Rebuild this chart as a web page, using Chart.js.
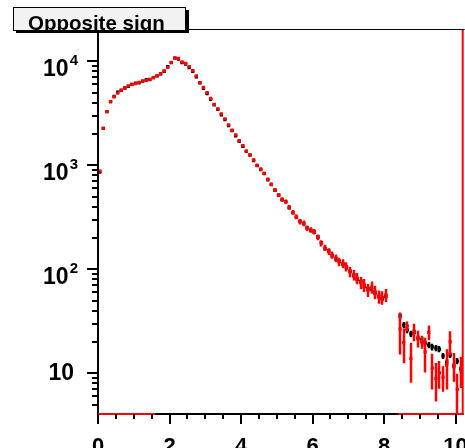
<!DOCTYPE html>
<html><head><meta charset="utf-8">
<script src="https://cdn.jsdelivr.net/npm/chart.js@4.4.0/dist/chart.umd.min.js"></script>
<style>html,body{margin:0;padding:0;background:#fff;overflow:hidden}canvas{display:block}</style>
</head><body>
<canvas id="c" width="465" height="448"></canvas>
<script>
const titleText = 'Opposite sign';

// bin centres (bin width 0.1)
const xLow = [0.05,0.15,0.25,0.35,0.45,0.55,0.65,0.75,0.85,0.95,
  1.05,1.15,1.25,1.35,1.45,1.55,1.65,1.75,1.85,1.95,
  2.05,2.15,2.25,2.35,2.45,2.55,2.65,2.75,2.85,2.95,
  3.05,3.15,3.25,3.35,3.45,3.55,3.65,3.75,3.85,3.95,
  4.05,4.15,4.25,4.35,4.45,4.55,4.65,4.75,4.85,4.95,
  5.05,5.15,5.25,5.35,5.45,5.55,5.65,5.75,5.85,5.95,
  6.05,6.15,6.25,6.35,6.45,6.55,6.65,6.75,6.85,6.95,
  7.05,7.15,7.25,7.35,7.45,7.55,7.65,7.75,7.85,7.95,
  8.05];
const xHigh = [8.45,8.55,8.65,8.75,8.85,8.95,9.05,9.15,9.25,9.35,9.45,9.55,9.65,9.75,9.85,9.95,10.05,10.15];

// black histogram
const blackLow = [860,2270,3275,4090,4600,5050,5250,5550,5750,6000,
  6150,6200,6450,6650,6650,6950,7250,7550,8000,8900,
  9700,10700,10500,9700,9400,8700,8000,7100,6200,5500,
  4900,4300,3800,3450,3050,2750,2400,2150,1920,1700,
  1520,1360,1250,1110,990,910,830,725,650,575,
  515,465,445,390,350,318,290,275,250,236,
  226,205,180,158,150,135,126,120,112,104,
  96,87,80,76,69,65,64,59,55,52,
  55];
const blackErrLow = [15,25,30,33,35,37,38,39,40,41,
  41,42,42,43,43,44,45,46,47,50,
  52,55,54,52,51,49,47,44,41,39,
  37,35,33,31,29,28,26,24,23,22,
  21,20,19,18,17,16,15,14,13,12,
  12,11,11,10,10,9,9,9,8,8,
  8,7,7,6,6,6,6,5,5,5,
  5,5,5,4,4,4,4,4,4,3,
  3];
const blackHigh = [35.6,29.1,26.1,23.9,24.9,21.8,20.9,19.5,18.7,17.9,17.5,17.1,14.7,12.8,15.0,11.7,13.1,11.0];
const blackErrHigh = [2.5,2.0,1.8,1.7,1.7,1.5,1.5,1.4,1.3,1.3,1.2,1.2,1.0,0.9,1.0,0.8,0.9,0.8];

// red histogram
const redLow = [880,2270,3275,4090,4540,4955,5295,5500,5790,5985,
  6090,6255,6437,6566,6683,6955,7222,7548,8068,8717,
  9781,10757,10640,9846,9524,8873,8122,7222,6226,5623,
  4990,4408,3860,3478,3114,2788,2441,2184,1956,1724,
  1543,1372,1256,1125,1000,921,838,733,657,579,
  518,471,447,395,353,320,287,277,248,239,
  230,203,178,161,148,137,128,118,114,106,
  94.8,88.2,81.9,74.3,70.6,63.2,67.1,60.5,54.5,53.5,
  56.6];
const redErrLow = [25,40,50,60,65,70,72,75,77,78,
  80,80,82,82,83,85,86,88,91,95,
  100,105,104,100,98,95,90,86,80,76,
  72,68,64,60,57,54,50,48,45,43,
  40,38,36,34,32,31,29,28,26,25,
  23,22,21,20,19,18,17,17,15,14,
  14,13,12,11,11,11,11,11,11,11,
  11,10,10,10,10,9,9,9,8,8,
  8];
const redHigh = [26.7,19.7,28.5,13.9,25.1,21.7,20.1,16.1,24.8,11.2,8.95,10.1,9.16,12.0,20.1,12.0,7.0,10.8];
const redErrHigh = [11.5,7.2,3.0,5.8,4.8,4.0,2.9,5.9,4.0,4.2,3.6,3.0,2.5,5.0,5.2,3.7,2.9,3.6];

// red histogram lines lying on the frame
const redBaseRanges = [[0,1.6],[8.4,10.2]];

// axes
const xRange = [0, 10.2];
const yRange = [4.06, 20440];
const xMajorTicks = [0,2,4,6,8,10];
const xTickLabels = ['0','2','4','6','8','10'];
const xMinorTicks = [0.5,1,1.5,2.5,3,3.5,4.5,5,5.5,6.5,7,7.5,8.5,9,9.5];
const yMajorTicks = [10,100,1000,10000];
const yTickBase = ['10','10','10','10'];
const yTickExp = ['','2','3','4'];
const yMinorTicks = [5,6,7,8,9,20,30,40,50,60,70,80,90,200,300,400,500,600,700,800,900,
  2000,3000,4000,5000,6000,7000,8000,9000,20000];

const FONT = '"Liberation Sans", Arial, Helvetica, sans-serif';

function pts(xs, ys){ return xs.map((x,i)=>({x:x, y:ys[i]})); }

const histPlugin = {
  id: 'hist',
  beforeDatasetDraw(chart, args) {
    const ds = chart.data.datasets[args.index];
    if (!ds.errors) return;
    const ctx = chart.ctx, a = chart.chartArea, x = chart.scales.x, y = chart.scales.y;
    ctx.save();
    ctx.beginPath(); ctx.rect(a.left, a.top, a.right - a.left, a.bottom - a.top); ctx.clip();
    ctx.strokeStyle = ds.errColor; ctx.lineWidth = ds.errWidth;
    ctx.beginPath();
    ds.data.forEach((p, i) => {
      const e = ds.errors[i]; if (!e) return;
      const px = Math.round(x.getPixelForValue(p.x));
      const hi = y.getPixelForValue(p.y + e);
      const lo = (p.y - e) > 0 ? y.getPixelForValue(p.y - e) : a.bottom;
      ctx.moveTo(px, hi); ctx.lineTo(px, lo);
    });
    ctx.stroke();
    ctx.restore();
  },
  afterDraw(chart) {
    const ctx = chart.ctx, a = chart.chartArea, x = chart.scales.x, y = chart.scales.y;
    ctx.save();
    // frame
    ctx.fillStyle = '#000';
    ctx.fillRect(a.left, a.top, a.right - a.left + 2, 1);
    ctx.fillRect(a.left - 1, a.top, 2, a.bottom - a.top + 1);
    ctx.fillRect(a.left - 1, a.bottom - 1, a.right - a.left + 2, 2);
    // red histogram edges on frame
    ctx.fillStyle = '#ff0000';
    redBaseRanges.forEach(r => {
      const p0 = x.getPixelForValue(r[0]), p1 = x.getPixelForValue(r[1]);
      ctx.fillRect(p0, a.bottom - 1, p1 - p0, 2);
    });
    const pr = x.getPixelForValue(xRange[1]);
    ctx.fillRect(pr - 1, a.top + 1, 2, a.bottom - a.top - 1);
    // x ticks
    ctx.fillStyle = '#000';
    xMajorTicks.forEach(v => { const px = Math.round(x.getPixelForValue(v)); ctx.fillRect(px - 1, a.bottom, 2, 10); });
    xMinorTicks.forEach(v => { const px = Math.round(x.getPixelForValue(v)); ctx.fillRect(px - 1, a.bottom, 2, 5); });
    // y ticks
    yMajorTicks.forEach(v => { const py = Math.round(y.getPixelForValue(v)); ctx.fillRect(a.left - 11, py - 1, 11, 2); });
    yMinorTicks.forEach(v => { const py = Math.round(y.getPixelForValue(v)); ctx.fillRect(a.left - 6, py - 1, 6, 2); });
    // x labels
    ctx.font = 'bold 22px ' + FONT;
    ctx.textAlign = 'center'; ctx.textBaseline = 'alphabetic';
    xMajorTicks.forEach((v, i) => { ctx.fillText(xTickLabels[i], x.getPixelForValue(v), 453); });
    // y labels
    yMajorTicks.forEach((v, i) => {
      const py = y.getPixelForValue(v);
      ctx.textAlign = 'right';
      if (!yTickExp[i]) {
        ctx.font = 'bold 23px ' + FONT;
        ctx.fillText(yTickBase[i], 74, py + 7);
      } else {
        ctx.font = 'bold 15px ' + FONT;
        const ew = ctx.measureText(yTickExp[i]).width;
        ctx.fillText(yTickExp[i], 78, py + 4);
        ctx.font = 'bold 23px ' + FONT;
        ctx.fillText(yTickBase[i], 77 - ew, py + 15);
      }
    });
    // title box
    const bx = 13, by = 7, bw = 173, bh = 23;
    ctx.fillStyle = '#f2f2f2';
    ctx.fillRect(bx, by, bw, bh);
    ctx.save();
    ctx.beginPath(); ctx.rect(bx, by, bw, bh); ctx.clip();
    ctx.fillStyle = '#000';
    ctx.font = 'bold 20.5px ' + FONT;
    ctx.textAlign = 'left';
    ctx.fillText(titleText, 28, 30);
    ctx.restore();
    ctx.strokeStyle = '#000'; ctx.lineWidth = 1;
    ctx.strokeRect(bx + 0.5, by + 0.5, bw - 1, bh);
    ctx.fillStyle = '#000';
    ctx.fillRect(bx + 3, by + bh, bw, 3);
    ctx.fillRect(bx + bw, by + 3, 3, bh);
    ctx.restore();
  }
};

new Chart(document.getElementById('c'), {
  type: 'scatter',
  data: {
    datasets: [
      { label: 'black', data: pts(xLow, blackLow).concat(pts(xHigh, blackHigh)),
        errors: blackErrLow.concat(blackErrHigh), errColor: '#000', errWidth: 2.5,
        backgroundColor: '#000', pointStyle: 'rect', pointRadius: 2.3, pointBorderWidth: 0,
        pointHoverRadius: 0, showLine: false, order: 2 },
      { label: 'red', data: pts(xLow, redLow).concat(pts(xHigh, redHigh)),
        errors: redErrLow.concat(redErrHigh), errColor: '#ff0000', errWidth: 2.5,
        backgroundColor: '#ff0000', pointStyle: 'rect', pointRadius: 2.3, pointBorderWidth: 0,
        pointHoverRadius: 0, showLine: false, order: 1 }
    ]
  },
  options: {
    responsive: false, animation: false, events: [],
    layout: { padding: { left: 98, top: 29, right: 2, bottom: 34 } },
    plugins: { legend: { display: false }, tooltip: { enabled: false }, title: { display: false } },
    scales: {
      x: { type: 'linear', min: xRange[0], max: xRange[1], display: false },
      y: { type: 'logarithmic', min: yRange[0], max: yRange[1], display: false }
    }
  },
  plugins: [histPlugin]
});
</script>
</body></html>
